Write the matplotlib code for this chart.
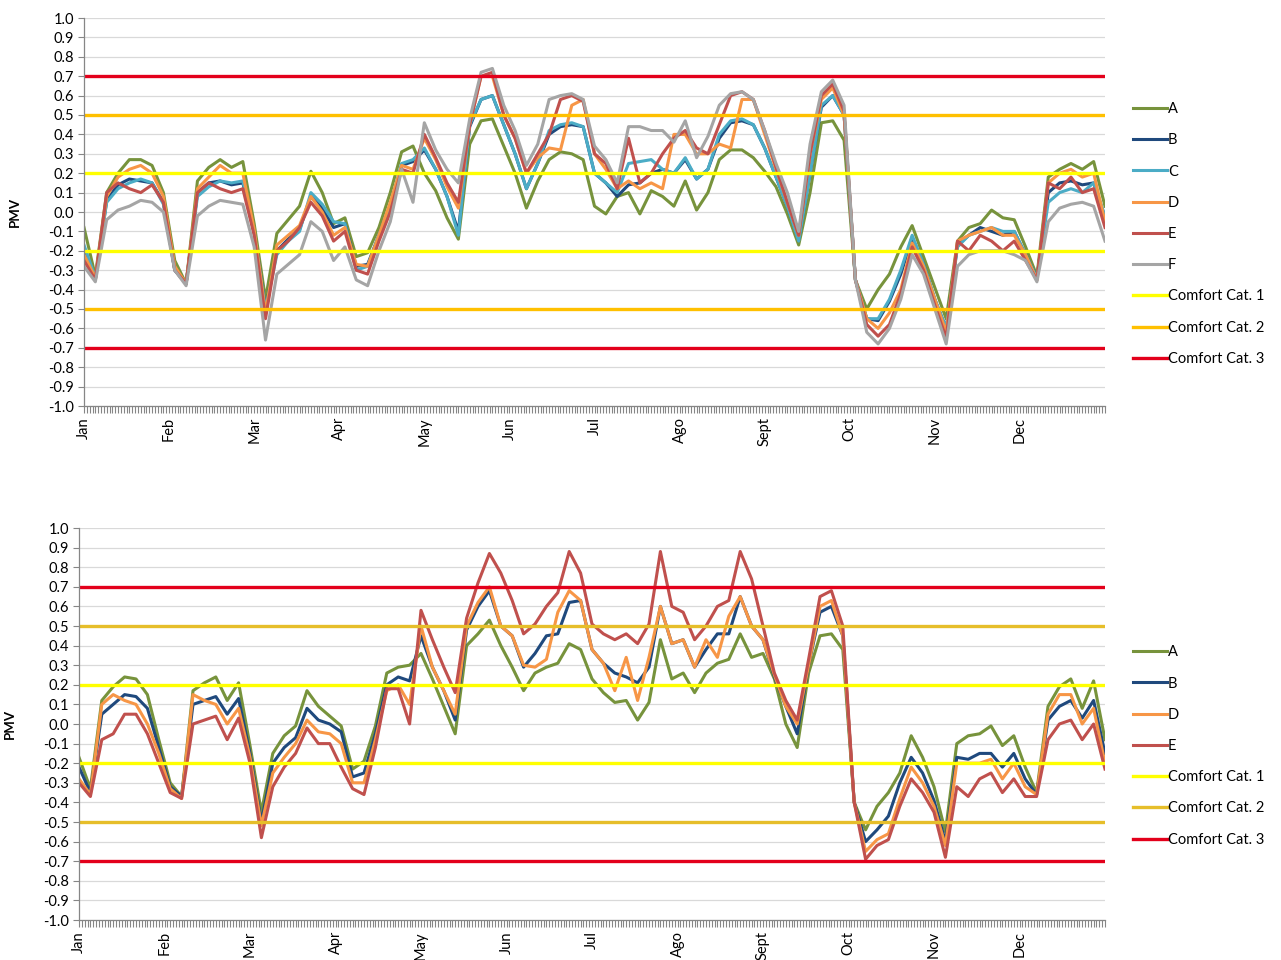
import matplotlib
matplotlib.use("Agg")
import matplotlib.pyplot as plt
from matplotlib.ticker import MultipleLocator, FormatStrFormatter
import numpy as np

plt.rcParams['font.family'] = ['Lato', 'DejaVu Sans']
plt.rcParams['axes.unicode_minus'] = False

# ---------------------------------------------------------------- data
months = ["Jan", "Feb", "Mar", "Apr", "May", "Jun", "Jul", "Ago", "Sept", "Oct", "Nov", "Dec"]
days = list(range(0, 361, 4))          # day of year (30-day months), sampled every 4 days

# upper chart: cases A-F
top_a = [-0.08, -0.33, 0.10, 0.20, 0.27, 0.27, 0.24, 0.10, -0.25, -0.37,
         0.16, 0.23, 0.27, 0.23, 0.26, -0.06, -0.45, -0.11, -0.04, 0.03,
         0.21, 0.10, -0.06, -0.03, -0.23, -0.21, -0.08, 0.10, 0.31, 0.34,
         0.20, 0.11, -0.03, -0.14, 0.35, 0.47, 0.48, 0.34, 0.20, 0.02,
         0.16, 0.27, 0.31, 0.30, 0.27, 0.03, -0.01, 0.08, 0.10, -0.01,
         0.11, 0.08, 0.03, 0.16, 0.01, 0.10, 0.27, 0.32, 0.32, 0.28,
         0.21, 0.13, -0.01, -0.17, 0.10, 0.46, 0.47, 0.37, -0.35, -0.50,
         -0.40, -0.32, -0.18, -0.07, -0.23, -0.39, -0.55, -0.15, -0.08, -0.06,
         0.01, -0.03, -0.04, -0.18, -0.33, 0.18, 0.22, 0.25, 0.22, 0.26,
         0.03]
top_b = [-0.20, -0.35, 0.06, 0.14, 0.17, 0.16, 0.15, 0.05, -0.30, -0.37,
         0.10, 0.15, 0.16, 0.14, 0.15, -0.10, -0.50, -0.20, -0.14, -0.09,
         0.08, 0.02, -0.08, -0.06, -0.28, -0.27, -0.12, 0.03, 0.24, 0.26,
         0.32, 0.22, 0.08, -0.10, 0.44, 0.58, 0.60, 0.45, 0.30, 0.12,
         0.25, 0.40, 0.44, 0.45, 0.44, 0.20, 0.15, 0.08, 0.14, 0.15,
         0.20, 0.22, 0.20, 0.27, 0.17, 0.22, 0.38, 0.46, 0.47, 0.45,
         0.33, 0.18, 0.03, -0.14, 0.20, 0.54, 0.60, 0.50, -0.35, -0.55,
         -0.56, -0.46, -0.32, -0.13, -0.27, -0.45, -0.60, -0.17, -0.12, -0.08,
         -0.10, -0.12, -0.10, -0.22, -0.34, 0.10, 0.15, 0.16, 0.14, 0.15,
         -0.03]
top_c = [-0.17, -0.34, 0.05, 0.12, 0.15, 0.17, 0.15, 0.04, -0.30, -0.37,
         0.08, 0.13, 0.16, 0.15, 0.16, -0.11, -0.50, -0.22, -0.15, -0.10,
         0.10, 0.04, -0.05, -0.06, -0.30, -0.28, -0.12, 0.03, 0.25, 0.27,
         0.33, 0.22, 0.08, -0.12, 0.45, 0.58, 0.60, 0.45, 0.30, 0.12,
         0.25, 0.42, 0.45, 0.46, 0.44, 0.20, 0.15, 0.10, 0.25, 0.26,
         0.27, 0.22, 0.20, 0.28, 0.17, 0.22, 0.40, 0.47, 0.48, 0.45,
         0.33, 0.18, 0.03, -0.15, 0.20, 0.55, 0.60, 0.50, -0.35, -0.55,
         -0.55, -0.45, -0.30, -0.12, -0.27, -0.45, -0.60, -0.18, -0.12, -0.10,
         -0.08, -0.10, -0.10, -0.22, -0.34, 0.05, 0.10, 0.12, 0.10, 0.15,
         -0.02]
top_d = [-0.22, -0.34, 0.08, 0.18, 0.22, 0.24, 0.20, 0.08, -0.28, -0.37,
         0.12, 0.18, 0.24, 0.20, 0.20, -0.09, -0.52, -0.17, -0.12, -0.07,
         0.08, 0.00, -0.12, -0.08, -0.27, -0.28, -0.12, 0.05, 0.24, 0.22,
         0.38, 0.27, 0.13, 0.02, 0.45, 0.70, 0.70, 0.50, 0.38, 0.20,
         0.28, 0.33, 0.32, 0.55, 0.58, 0.30, 0.22, 0.12, 0.16, 0.12,
         0.15, 0.12, 0.40, 0.40, 0.30, 0.30, 0.35, 0.33, 0.58, 0.58,
         0.40, 0.22, 0.05, -0.12, 0.30, 0.58, 0.64, 0.50, -0.35, -0.55,
         -0.60, -0.52, -0.40, -0.16, -0.28, -0.45, -0.62, -0.15, -0.12, -0.10,
         -0.08, -0.12, -0.12, -0.22, -0.35, 0.15, 0.20, 0.22, 0.18, 0.20,
         -0.05]
top_e = [-0.25, -0.35, 0.10, 0.15, 0.12, 0.10, 0.14, 0.05, -0.30, -0.37,
         0.10, 0.15, 0.12, 0.10, 0.12, -0.12, -0.55, -0.20, -0.15, -0.08,
         0.05, -0.02, -0.15, -0.10, -0.30, -0.32, -0.15, 0.00, 0.22, 0.20,
         0.40, 0.28, 0.15, 0.05, 0.45, 0.70, 0.72, 0.50, 0.38, 0.20,
         0.30, 0.40, 0.58, 0.60, 0.57, 0.30, 0.25, 0.12, 0.38, 0.15,
         0.20, 0.30, 0.38, 0.42, 0.33, 0.30, 0.45, 0.60, 0.62, 0.58,
         0.42, 0.23, 0.05, -0.12, 0.30, 0.60, 0.66, 0.52, -0.35, -0.58,
         -0.64, -0.58, -0.42, -0.18, -0.30, -0.48, -0.65, -0.15, -0.20, -0.12,
         -0.15, -0.20, -0.15, -0.25, -0.35, 0.15, 0.12, 0.18, 0.10, 0.12,
         -0.08]
top_f = [-0.28, -0.36, -0.04, 0.01, 0.03, 0.06, 0.05, 0.00, -0.30, -0.38,
         -0.02, 0.03, 0.06, 0.05, 0.04, -0.18, -0.66, -0.32, -0.27, -0.22,
         -0.05, -0.10, -0.25, -0.18, -0.35, -0.38, -0.20, -0.05, 0.22, 0.05,
         0.46, 0.32, 0.22, 0.15, 0.48, 0.72, 0.74, 0.55, 0.42, 0.24,
         0.35, 0.58, 0.60, 0.61, 0.58, 0.34, 0.27, 0.15, 0.44, 0.44,
         0.42, 0.42, 0.36, 0.47, 0.28, 0.39, 0.55, 0.61, 0.62, 0.58,
         0.42, 0.25, 0.10, -0.10, 0.35, 0.62, 0.68, 0.55, -0.35, -0.62,
         -0.68, -0.60, -0.45, -0.22, -0.32, -0.50, -0.68, -0.28, -0.22, -0.20,
         -0.20, -0.20, -0.22, -0.25, -0.36, -0.05, 0.02, 0.04, 0.05, 0.03,
         -0.15]

# lower chart: cases A, B, D, E
bot_a = [-0.17, -0.33, 0.12, 0.19, 0.24, 0.23, 0.15, -0.08, -0.30, -0.37,
         0.17, 0.21, 0.24, 0.12, 0.21, -0.11, -0.45, -0.15, -0.06, -0.01,
         0.17, 0.09, 0.04, -0.01, -0.23, -0.19, -0.01, 0.26, 0.29, 0.30,
         0.36, 0.23, 0.09, -0.05, 0.40, 0.46, 0.53, 0.40, 0.29, 0.17,
         0.26, 0.29, 0.31, 0.41, 0.38, 0.23, 0.16, 0.11, 0.12, 0.02,
         0.11, 0.43, 0.23, 0.26, 0.16, 0.26, 0.31, 0.33, 0.46, 0.34,
         0.36, 0.23, 0.00, -0.12, 0.26, 0.45, 0.46, 0.38, -0.40, -0.54,
         -0.42, -0.35, -0.25, -0.06, -0.17, -0.32, -0.55, -0.10, -0.06, -0.05,
         -0.01, -0.11, -0.06, -0.22, -0.35, 0.09, 0.19, 0.23, 0.08, 0.22,
         -0.08]
bot_b = [-0.22, -0.35, 0.05, 0.10, 0.15, 0.14, 0.08, -0.12, -0.32, -0.37,
         0.10, 0.12, 0.14, 0.05, 0.13, -0.15, -0.50, -0.20, -0.12, -0.07,
         0.08, 0.02, 0.00, -0.04, -0.27, -0.25, -0.05, 0.20, 0.24, 0.22,
         0.45, 0.29, 0.17, 0.02, 0.48, 0.60, 0.68, 0.50, 0.45, 0.29,
         0.36, 0.45, 0.46, 0.62, 0.63, 0.38, 0.31, 0.26, 0.24, 0.21,
         0.29, 0.60, 0.41, 0.43, 0.29, 0.38, 0.46, 0.46, 0.65, 0.50,
         0.43, 0.24, 0.09, -0.05, 0.30, 0.57, 0.60, 0.45, -0.40, -0.60,
         -0.54, -0.47, -0.30, -0.17, -0.25, -0.39, -0.60, -0.17, -0.18, -0.15,
         -0.15, -0.22, -0.15, -0.28, -0.36, 0.02, 0.09, 0.12, 0.03, 0.12,
         -0.15]
bot_d = [-0.28, -0.36, 0.10, 0.15, 0.12, 0.10, 0.00, -0.15, -0.33, -0.38,
         0.15, 0.12, 0.10, 0.00, 0.08, -0.17, -0.52, -0.25, -0.17, -0.10,
         0.02, -0.04, -0.05, -0.10, -0.30, -0.30, -0.08, 0.17, 0.20, 0.10,
         0.50, 0.29, 0.17, 0.05, 0.50, 0.62, 0.70, 0.50, 0.45, 0.30,
         0.29, 0.33, 0.57, 0.68, 0.63, 0.38, 0.31, 0.17, 0.34, 0.12,
         0.34, 0.60, 0.41, 0.43, 0.29, 0.43, 0.34, 0.55, 0.65, 0.50,
         0.43, 0.25, 0.09, 0.00, 0.30, 0.60, 0.63, 0.45, -0.40, -0.65,
         -0.59, -0.56, -0.38, -0.22, -0.30, -0.42, -0.62, -0.20, -0.20, -0.20,
         -0.18, -0.28, -0.20, -0.32, -0.36, 0.05, 0.15, 0.15, 0.00, 0.08,
         -0.20]
bot_e = [-0.30, -0.37, -0.08, -0.05, 0.05, 0.05, -0.05, -0.20, -0.35, -0.38,
         0.00, 0.02, 0.04, -0.08, 0.03, -0.20, -0.58, -0.32, -0.22, -0.15,
         -0.02, -0.10, -0.10, -0.22, -0.33, -0.36, -0.12, 0.18, 0.18, 0.00,
         0.58, 0.43, 0.29, 0.16, 0.54, 0.72, 0.87, 0.77, 0.63, 0.46,
         0.51, 0.60, 0.67, 0.88, 0.77, 0.51, 0.46, 0.43, 0.46, 0.41,
         0.51, 0.88, 0.60, 0.57, 0.43, 0.50, 0.60, 0.63, 0.88, 0.74,
         0.50, 0.26, 0.12, 0.02, 0.33, 0.65, 0.68, 0.50, -0.40, -0.69,
         -0.62, -0.59, -0.42, -0.28, -0.35, -0.45, -0.68, -0.32, -0.37, -0.28,
         -0.25, -0.35, -0.28, -0.37, -0.37, -0.08, 0.00, 0.02, -0.08, 0.00,
         -0.23]

comfort_labels = ["Comfort Cat. 1", "Comfort Cat. 2", "Comfort Cat. 3"]
comfort_limits = [0.2, 0.5, 0.7]

# ---------------------------------------------------------------- styling
case_colors = {"A": "#77933C", "B": "#1F497D", "C": "#4BACC6",
               "D": "#F79646", "E": "#C0504D", "F": "#A5A5A5"}
comfort_colors_top = ["#FFFF00", "#FFC000", "#E3001B"]
comfort_colors_bot = ["#FFFF00", "#E6BE2A", "#E3001B"]
axis_grey = "#868686"


def draw_panel(ax, series, comfort_colors):
    for name, vals in series:
        ax.plot(days, vals, color=case_colors[name], lw=2.2, label=name,
                solid_joinstyle="round")
    x0, x1 = days[0], days[-1]
    for lab, lim, col in zip(comfort_labels, comfort_limits, comfort_colors):
        ax.plot([x0, x1], [lim, lim], color=col, lw=2.4, label=lab)
        ax.plot([x0, x1], [-lim, -lim], color=col, lw=2.4)

    ax.set_xlim(days[0], days[-1])
    ax.set_ylim(-1.0, 1.0)
    ax.yaxis.set_major_locator(MultipleLocator(0.1))
    ax.yaxis.set_major_formatter(FormatStrFormatter("%.1f"))
    ax.grid(axis="y", color="#D9D9D9", lw=0.9)
    ax.set_axisbelow(True)

    ax.set_xticks(range(0, 360, 30))
    ax.set_xticklabels(months, rotation=90, ha="center", va="top")
    ax.xaxis.set_minor_locator(MultipleLocator(1))
    ax.tick_params(axis="x", which="both", length=5, width=0.8,
                   color=axis_grey, labelsize=10.5, pad=3)
    ax.tick_params(axis="y", length=4, width=0.8, color=axis_grey,
                   labelsize=10.5, pad=3)
    for side in ("top", "right"):
        ax.spines[side].set_visible(False)
    for side in ("left", "bottom"):
        ax.spines[side].set_color(axis_grey)
        ax.spines[side].set_linewidth(0.9)
    ax.set_ylabel("PMV", fontweight="bold", fontsize=9.5, labelpad=20)


def add_legend(ax, centre_y):
    ax.legend(loc="center left", bbox_to_anchor=(1133 / W, 1 - centre_y / H),
              bbox_transform=fig.transFigure, frameon=False, borderpad=0,
              borderaxespad=0, handlelength=2.3, handletextpad=0.1,
              labelspacing=1.18, fontsize=10.5)


W, H = 1281, 960
fig = plt.figure(figsize=(W / 100, H / 100), dpi=100)

ax_top = fig.add_axes([84 / W, 1 - 406 / H, (1105 - 84) / W, (406 - 18) / H])
draw_panel(ax_top, [("A", top_a), ("B", top_b), ("C", top_c),
                    ("D", top_d), ("E", top_e), ("F", top_f)],
           comfort_colors_top)
add_legend(ax_top, 234)

ax_bot = fig.add_axes([79 / W, 1 - 920 / H, (1105 - 79) / W, (920 - 528) / H])
draw_panel(ax_bot, [("A", bot_a), ("B", bot_b), ("D", bot_d), ("E", bot_e)],
           comfort_colors_bot)
add_legend(ax_bot, 746)

fig.savefig("out.png", dpi=100, facecolor="white")
